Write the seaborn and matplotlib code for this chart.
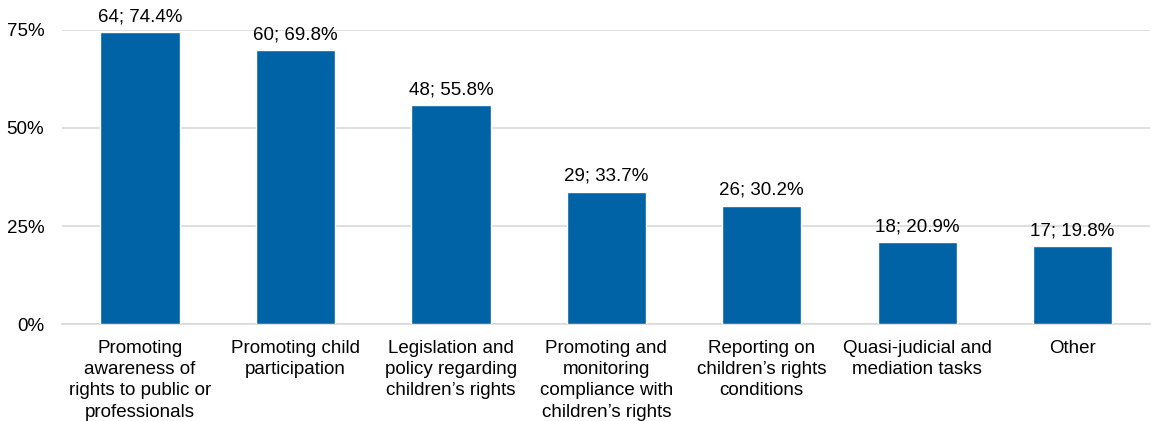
import matplotlib
matplotlib.use("Agg")
import matplotlib.pyplot as plt
import seaborn as sns
import pandas as pd
from matplotlib.ticker import PercentFormatter

categories = [
    "Promoting\nawareness of\nrights to public or\nprofessionals",
    "Promoting child\nparticipation",
    "Legislation and\npolicy regarding\nchildren\u2019s rights",
    "Promoting and\nmonitoring\ncompliance with\nchildren\u2019s rights",
    "Reporting on\nchildren\u2019s rights\nconditions",
    "Quasi-judicial and\nmediation tasks",
    "Other",
]
counts = [64, 60, 48, 29, 26, 18, 17]
shares = [74.4, 69.8, 55.8, 33.7, 30.2, 20.9, 19.8]

df = pd.DataFrame({"category": categories, "share": shares, "count": counts})

sns.set_theme(style="white")
plt.rcParams["font.family"] = ["Liberation Sans", "DejaVu Sans"]

FS = 13.5

fig = plt.figure(figsize=(11.55, 4.21), dpi=100)
ax = fig.add_axes([0.054, 0.23, 0.942, 0.699])

sns.barplot(data=df, x="category", y="share", color="#0063A6",
            saturation=1, width=0.51, ax=ax, zorder=3)

# 数据标签
for i, (c, s) in enumerate(zip(counts, shares)):
    ax.text(i, s + 1.8, f"{c}; {s:.1f}%", ha="center", va="bottom",
            fontsize=FS, color="#000000", clip_on=False)

ax.set_ylim(0, 75)
ax.set_yticks([0, 25, 50, 75])
ax.yaxis.set_major_formatter(PercentFormatter(decimals=0))
ax.grid(axis="y", color="#D9D9D9", linewidth=1.2, zorder=0)
ax.set_xlabel("")
ax.set_ylabel("")
for side in ["top", "right", "left"]:
    ax.spines[side].set_visible(False)
ax.spines["bottom"].set_color("#D9D9D9")
ax.spines["bottom"].set_linewidth(1.2)
ax.tick_params(axis="both", length=0, labelsize=FS, colors="#000000")
ax.tick_params(axis="x", pad=11.5)
ax.tick_params(axis="y", pad=13)
for lbl in ax.get_xticklabels():
    lbl.set_verticalalignment("top")
    lbl.set_linespacing(1.32)

fig.savefig("out.png", dpi=100)
